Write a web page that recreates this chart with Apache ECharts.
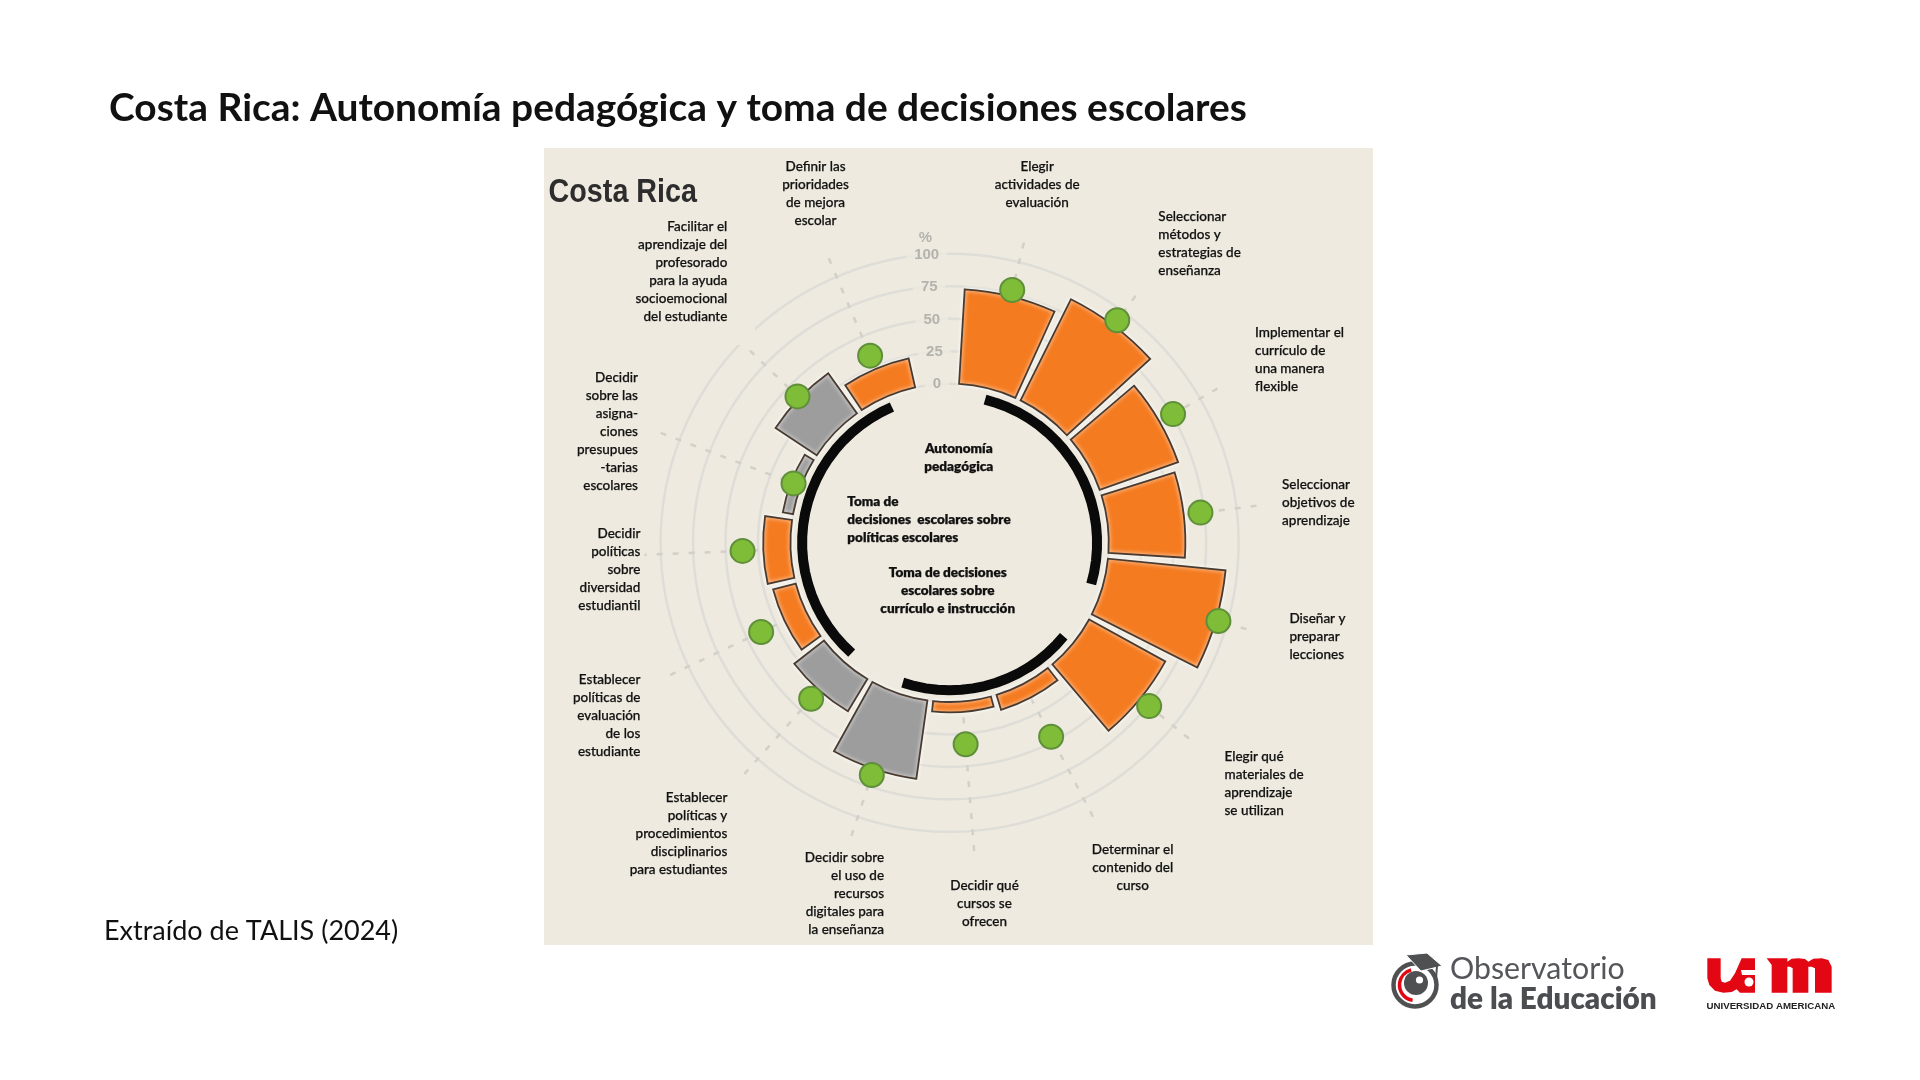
<!DOCTYPE html>
<html>
<head>
<meta charset="utf-8">
<style>html,body{margin:0;padding:0;background:#fff}#chart{width:1920px;height:1080px}</style>
<script src="https://cdn.jsdelivr.net/npm/echarts@6/dist/echarts.min.js"></script>
</head>
<body>
<div id="chart"></div>
<script>
var topics = ['Elegir actividades de evaluación','Seleccionar métodos y estrategias de enseñanza','Implementar el currículo de una manera flexible','Seleccionar objetivos de aprendizaje','Diseñar y preparar lecciones','Elegir qué materiales de aprendizaje se utilizan','Determinar el contenido del curso','Decidir qué cursos se ofrecen','Decidir sobre el uso de recursos digitales para la enseñanza','Establecer políticas y procedimientos disciplinarios para estudiantes','Establecer políticas de evaluación de los estudiante','Decidir políticas sobre diversidad estudiantil','Decidir sobre las asignaciones presupuestarias escolares','Facilitar el aprendizaje del profesorado para la ayuda socioemocional del estudiante','Definir las prioridades de mejora escolar'];
var barValues = [73,87,64,59,91,67,12,8,61,29,18,21,8,38,23];
var dotValues = [78,92,76,72,93,76,46,33,66,38,38,37,6,40,34];
var barKinds  = ['o','o','o','o','o','o','o','o','g','g','o','o','g','g','o'];
var radiusTicks = [0,25,50,75,100];
var arcGroups = [[0,4],[5,8],[9,14]];

var labelTexts = [
 'Definir las\nprioridades\nde mejora\nescolar',
 'Elegir\nactividades de\nevaluación',
 'Seleccionar\nmétodos y\nestrategias de\nenseñanza',
 'Implementar el\ncurrículo de\nuna manera\nflexible',
 'Seleccionar\nobjetivos de\naprendizaje',
 'Diseñar y\npreparar\nlecciones',
 'Elegir qué\nmateriales de\naprendizaje\nse utilizan',
 'Determinar el\ncontenido del\ncurso',
 'Decidir qué\ncursos se\nofrecen',
 'Decidir sobre\nel uso de\nrecursos\ndigitales para\nla enseñanza',
 'Establecer\npolíticas y\nprocedimientos\ndisciplinarios\npara estudiantes',
 'Establecer\npolíticas de\nevaluación\nde los\nestudiante',
 'Decidir\npolíticas\nsobre\ndiversidad\nestudiantil',
 'Decidir\nsobre las\nasigna-\nciones\npresupues\n-tarias\nescolares',
 'Facilitar el\naprendizaje del\nprofesorado\npara la ayuda\nsocioemocional\ndel estudiante'
];
var labelAnchors = [[666,'center',136],[847,'center',136],[946,'left',177],[1025,'left',272],[1047,'left',396],[1053,'left',505],[1000,'left',618],[925,'center',694],[804,'center',723],[722,'right',700],[594,'right',651],[523,'right',555],[523,'right',436],[521,'right',308],[594,'right',185]];
var groupTexts = ['Autonomía\npedagógica','Toma de\ndecisiones  escolares sobre\npolíticas escolares','Toma de decisiones\nescolares sobre\ncurrículo e instrucción'];
var groupAnchors = [[783,'center',366],[692,'left',410],[774,'center',468]];

var S = 1920/1568, PANEL = '#EEEADF', SLOTS_PER_TOPIC = 5, SLOT_COUNT = 78, BAR_HALF_ANGLE = 10.5 * Math.PI / 180;
var slots = [], i;
for (i = 0; i < SLOT_COUNT; i++) slots.push(i % SLOTS_PER_TOPIC === 0 && topics[i / SLOTS_PER_TOPIC] ? topics[i / SLOTS_PER_TOPIC] : 's' + i);
function slotOf(k){ return k * SLOTS_PER_TOPIC; }

var barData = barValues.map(function(v,k){ return [v, slotOf(k), barKinds[k]==='o' ? 0 : 1]; });
var barFill = ['#F57B20','#9D9D9D'];
var dotData = dotValues.map(function(v,k){ return [v, slotOf(k)]; });
var spokeData = topics.map(function(t,k){ return [116, slotOf(k)]; });
var tickData = radiusTicks.map(function(t){ return {value:[t, 74], label:{formatter:String(t)}}; });
tickData.push({value:[113, 74], label:{formatter:'%'}});
var arcSeries = arcGroups.map(function(g){
  var d = [];
  for (var s = slotOf(g[0]); s <= slotOf(g[1]); s++) d.push([-9, s]);
  return {type:'line', coordinateSystem:'polar', data:d, showSymbol:false, symbol:'none', silent:true, z:4,
    lineStyle:{color:'#0a0a0a', width:10, cap:'butt'}};
});

var gfx = [];
gfx.push({type:'rect', z:-5, shape:{x:544,y:148,width:829,height:797}, style:{fill:PANEL}});
gfx.push({type:'rect', z:19, shape:{x:640,y:215,width:115,height:130}, style:{fill:PANEL}});
function addLabel(txt, a, heavy){
  var pad = heavy ? 0 : 4, off = a[1]==='right' ? pad : a[1]==='left' ? -pad : 0;
  gfx.push({type:'text', z:20, x:a[0]*S+off, y:a[2]*S-9-(heavy?0:3), style:{text:txt, fill:'#111', align:a[1], verticalAlign:'top',
    font:(heavy?800:500)+' 13.5px Lato, sans-serif', lineHeight:18, backgroundColor:heavy?null:PANEL, padding:heavy?0:[3,4],
    stroke:'#111', lineWidth:0.25}});
}
labelTexts.forEach(function(t,k){ addLabel(t, labelAnchors[k]); });
groupTexts.forEach(function(t,k){ addLabel(t, groupAnchors[k], true); });
gfx.push({type:'text', z:20, x:109, y:108, style:{text:'Costa Rica: Autonomía pedagógica y toma de decisiones escolares', fill:'#111', font:'700 38.9px Lato, sans-serif', verticalAlign:'middle'}});
gfx.push({type:'text', z:20, x:104, y:931, style:{text:'Extraído de TALIS (2024)', fill:'#111', font:'400 27px Lato, sans-serif', verticalAlign:'middle'}});
gfx.push({type:'text', z:20, x:548.6, y:193, scaleX:0.87, style:{text:'Costa Rica', fill:'#2d2d2d', font:'700 33px "Liberation Sans", sans-serif', verticalAlign:'middle'}});
// logo Observatorio
var dk = '#4f5052';
gfx.push({type:'circle', z:20, shape:{cx:1415,cy:985,r:21.5}, style:{fill:'none',stroke:dk,lineWidth:4.5}});
gfx.push({type:'arc', z:20, shape:{cx:1415,cy:985,r:15.5,startAngle:Math.PI*0.55,endAngle:Math.PI*1.42,clockwise:true}, style:{fill:'none',stroke:'#E30613',lineWidth:3.5}});
gfx.push({type:'circle', z:20, shape:{cx:1416,cy:983,r:12}, style:{fill:dk}});
gfx.push({type:'circle', z:20, shape:{cx:1419.5,cy:980,r:3.6}, style:{fill:'#fff'}});
gfx.push({type:'polygon', z:21, shape:{points:[[1406,955],[1427,953],[1442,966],[1421,971]]}, style:{fill:dk,stroke:'#fff',lineWidth:1}});
gfx.push({type:'line', z:21, shape:{x1:1437,y1:966,x2:1436,y2:979}, style:{stroke:dk,lineWidth:2}});
gfx.push({type:'text', z:20, x:1450, y:984, style:{text:'Observatorio', fill:'#55565a', font:'400 30.3px Lato, sans-serif', verticalAlign:'bottom'}});
gfx.push({type:'text', z:20, x:1450, y:1014, style:{text:'de la Educación', fill:'#4c4d50', font:'800 29.7px Lato, sans-serif', verticalAlign:'bottom'}});
// logo UAM
function zp(pts){ return pts.map(function(p){ return [1700+p[0]/3, 950+p[1]/3]; }); }
gfx.push({type:'polygon', z:20, shape:{points:zp([[22,25],[62,25],[62,85],[65,95],[75,98],[90,92],[105,70],[125,25],[165,25],[165,128],[120,128],[110,118],[95,126],[70,128],[45,122],[28,105],[22,85]])}, style:{fill:'#E30613'}});
gfx.push({type:'circle', z:21, shape:{cx:1749,cy:982,r:4.5}, style:{fill:'#fff'}});
gfx.push({type:'polygon', z:21, shape:{points:[[1741,970],[1755,970],[1755,975],[1742,975]]}, style:{fill:'#fff'}});
gfx.push({type:'polygon', z:20, shape:{points:zp([[200,25],[262,25],[262,35],[275,26],[295,25],[315,27],[325,35],[340,26],[365,25],[385,30],[395,50],[395,128],[345,128],[345,55],[335,50],[325,50],[325,128],[278,128],[278,55],[270,50],[262,50],[262,128],[215,128],[215,45]])}, style:{fill:'#E30613'}});
gfx.push({type:'text', z:20, x:1706.5, y:1006.5, style:{text:'UNIVERSIDAD AMERICANA', fill:'#222', font:'700 9.7px "Liberation Sans", sans-serif', verticalAlign:'middle'}});

var RING = '#DEDDD7';
var option = {
  animation:false,
  backgroundColor:'#ffffff',
  graphic:{elements:gfx},
  polar:{center:[949.6,542.8], radius:[126.7,321.5]},
  angleAxis:{type:'category', data:slots, startAngle:78.4, clockwise:true,
    axisLine:{show:false}, axisTick:{show:false}, axisLabel:{show:false}, splitLine:{show:false}},
  radiusAxis:{type:'value', min:-25, max:125, interval:25,
    axisLine:{show:false}, axisTick:{show:false}, axisLabel:{show:false},
    splitLine:{show:true, lineStyle:{color:['transparent',RING,RING,RING,RING,RING,'transparent'], width:2.5}}},
  series:[
    {type:'custom', coordinateSystem:'polar', silent:true, z:1, data:spokeData,
      renderItem:function(params, api){
        var a = api.coord([0, api.value(1)]), b = api.coord([api.value(0), api.value(1)]);
        return {type:'line', shape:{x1:a[0],y1:a[1],x2:b[0],y2:b[1]}, style:{stroke:'#D2D0C8', lineWidth:2.5, lineDash:[6,10], fill:null}};
      }},
    {type:'scatter', coordinateSystem:'polar', data:tickData, symbolSize:0, z:2, silent:true,
      label:{show:true, position:'inside', color:'#A5A5A1', fontFamily:'"Liberation Sans", sans-serif', fontWeight:'bold', fontSize:15,
        backgroundColor:PANEL, padding:[1,8]}},
    {type:'custom', coordinateSystem:'polar', z:3, data:barData,
      renderItem:function(params, api){
        var cs = params.coordSys, slot = api.value(1);
        var a = api.coord([0, slot]), b = api.coord([api.value(0), slot]);
        var ang = Math.atan2(b[1]-cs.cy, b[0]-cs.cx);
        return {type:'sector',
          shape:{cx:cs.cx, cy:cs.cy, r0:Math.hypot(a[0]-cs.cx,a[1]-cs.cy), r:Math.hypot(b[0]-cs.cx,b[1]-cs.cy),
                 startAngle:ang-BAR_HALF_ANGLE, endAngle:ang+BAR_HALF_ANGLE, clockwise:true},
          style:{fill:barFill[api.value(2)], stroke:'#4A3B30', lineWidth:1.8, shadowColor:'#ffffff', shadowBlur:4}};
      }},
    {type:'scatter', coordinateSystem:'polar', data:dotData, symbolSize:24, z:5,
      itemStyle:{color:'#7FBC37', borderColor:'#5F8F3A', borderWidth:2, opacity:1}}
  ].concat(arcSeries)
};
var chart = echarts.init(document.getElementById('chart'));
chart.setOption(option);
</script>
</body>
</html>
